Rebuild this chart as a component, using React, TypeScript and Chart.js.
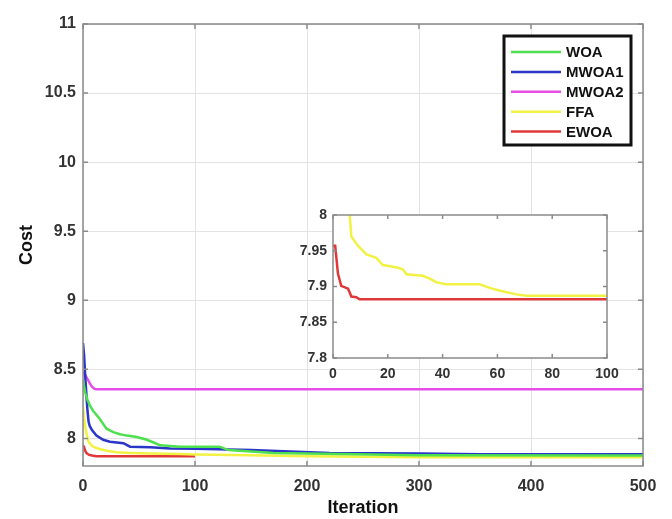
import React, { useEffect, useRef } from "react";
import { Chart, registerables } from "chart.js";
Chart.register(...registerables);

// ---------- data ----------
const seriesNames = ["WOA", "MWOA1", "MWOA2", "FFA", "EWOA"];
const seriesColors = ["#4ee04e", "#2a36c8", "#e64ee6", "#f2f244", "#e03838"];

const woaIter = [0, 2, 4, 6, 9, 15, 21, 27, 33, 39, 48, 57, 63, 69, 87, 122, 130, 170, 200, 300, 500];
const woaCost = [8.42, 8.33, 8.28, 8.24, 8.2, 8.14, 8.07, 8.045, 8.03, 8.02, 8.01, 7.99, 7.97, 7.95, 7.94, 7.94, 7.915, 7.895, 7.89, 7.878, 7.876];

const mwoa1Iter = [0, 1, 2, 3, 4, 5, 6, 8, 12, 18, 24, 36, 42, 60, 78, 100, 150, 220, 300, 354, 500];
const mwoa1Cost = [8.69, 8.6, 8.45, 8.32, 8.2, 8.12, 8.09, 8.06, 8.02, 7.99, 7.976, 7.965, 7.94, 7.935, 7.927, 7.925, 7.915, 7.895, 7.89, 7.885, 7.885];

const mwoa2Iter = [0, 2, 4, 6, 8, 10, 12, 500];
const mwoa2Cost = [8.48, 8.46, 8.43, 8.4, 8.375, 8.36, 8.355, 8.355];

const ffaIter = [0, 1, 2, 3, 5, 7, 9, 14, 21, 30, 42, 60, 87, 100, 150, 200, 300, 500];
const ffaCost = [8.23, 8.15, 8.09, 8.04, 7.975, 7.955, 7.94, 7.925, 7.91, 7.9, 7.895, 7.89, 7.886, 7.883, 7.878, 7.87, 7.864, 7.864];

const ewoaIter = [0, 1, 2, 3, 5, 8, 12, 100];
const ewoaCost = [7.95, 7.935, 7.91, 7.895, 7.882, 7.876, 7.87, 7.87];

// inset (zoomed view, iterations 0-100)
const insetFfaIter = [0, 3, 5, 6.1, 6.7, 9.1, 12.2, 15.8, 18.2, 23, 25.5, 26.8, 32.8, 35.3, 37.7, 41.4, 53.5, 57.2, 61, 67, 70.6, 100];
const insetFfaCost = [8.24, 8.04, 8.01, 8.0, 7.97, 7.957, 7.945, 7.94, 7.93, 7.927, 7.924, 7.917, 7.915, 7.911, 7.906, 7.903, 7.903, 7.898, 7.894, 7.889, 7.887, 7.887];
const insetEwoaIter = [0, 0.8, 1.8, 3, 5.5, 6.7, 8.5, 9.7, 100];
const insetEwoaCost = [7.957, 7.957, 7.918, 7.901, 7.897, 7.886, 7.885, 7.882, 7.882];

const mainXTicks = [0, 100, 200, 300, 400, 500];
const mainYTicks = [8, 8.5, 9, 9.5, 10, 10.5, 11];
const insetXTicks = [0, 20, 40, 60, 80, 100];
const insetYTicks = [7.8, 7.85, 7.9, 7.95, 8];
const insetYLabels = ["7.8", "7.85", "7.9", "7.95", "8"];

// ---------- helpers ----------
const AXIS_COLOR = "#8a8a8a";
const TICK_TEXT = "#333333";
const FONT = "'Liberation Sans', Arial, sans-serif";

const pts = (xs: number[], ys: number[]) => xs.map((x, i) => ({ x, y: ys[i] }));

const boxPlugin = (tickLen: number, fillWhite: boolean) => ({
  id: "matlabBox",
  beforeDraw(chart: any) {
    if (!fillWhite) return;
    const { ctx, chartArea: a } = chart;
    ctx.save();
    ctx.fillStyle = "#ffffff";
    ctx.fillRect(a.left, a.top, a.right - a.left, a.bottom - a.top);
    ctx.restore();
  },
  afterDatasetsDraw(chart: any) {
    const { ctx, chartArea: a, scales } = chart;
    ctx.save();
    ctx.strokeStyle = AXIS_COLOR;
    ctx.lineWidth = 1.5;
    ctx.beginPath();
    for (const t of scales.x.ticks) {
      const px = scales.x.getPixelForValue(t.value);
      ctx.moveTo(px, a.bottom);
      ctx.lineTo(px, a.bottom - tickLen);
      ctx.moveTo(px, a.top);
      ctx.lineTo(px, a.top + tickLen);
    }
    for (const t of scales.y.ticks) {
      const py = scales.y.getPixelForValue(t.value);
      ctx.moveTo(a.left, py);
      ctx.lineTo(a.left + tickLen, py);
      ctx.moveTo(a.right, py);
      ctx.lineTo(a.right - tickLen, py);
    }
    ctx.stroke();
    ctx.strokeRect(a.left, a.top, a.right - a.left, a.bottom - a.top);
    ctx.restore();
  },
});

const legendPlugin = {
  id: "boxLegend",
  afterDraw(chart: any) {
    const { ctx } = chart;
    const bx = 504, by = 36, bw = 127, bh = 109;
    ctx.save();
    ctx.fillStyle = "#ffffff";
    ctx.fillRect(bx, by, bw, bh);
    ctx.strokeStyle = "#111111";
    ctx.lineWidth = 3;
    ctx.strokeRect(bx, by, bw, bh);
    ctx.font = `bold 15px ${FONT}`;
    ctx.textBaseline = "middle";
    ctx.textAlign = "left";
    chart.data.datasets.forEach((ds: any, i: number) => {
      const y = 52 + i * 19.9;
      ctx.strokeStyle = ds.borderColor;
      ctx.lineWidth = 2.5;
      ctx.beginPath();
      ctx.moveTo(511, y);
      ctx.lineTo(561, y);
      ctx.stroke();
      ctx.fillStyle = "#111111";
      ctx.fillText(ds.label, 566, y + 1);
    });
    ctx.restore();
  },
};

function lineDs(label: string, color: string, data: any[], width: number) {
  return {
    label,
    data,
    borderColor: color,
    backgroundColor: color,
    borderWidth: width,
    pointRadius: 0,
    tension: 0,
    fill: false,
  };
}

export default function App() {
  const mainRef = useRef<HTMLCanvasElement | null>(null);
  const insetRef = useRef<HTMLCanvasElement | null>(null);

  useEffect(() => {
    const main = new Chart(mainRef.current as HTMLCanvasElement, {
      type: "line",
      data: {
        datasets: [
          lineDs(seriesNames[0], seriesColors[0], pts(woaIter, woaCost), 2.5),
          lineDs(seriesNames[1], seriesColors[1], pts(mwoa1Iter, mwoa1Cost), 2.5),
          lineDs(seriesNames[2], seriesColors[2], pts(mwoa2Iter, mwoa2Cost), 2.5),
          lineDs(seriesNames[3], seriesColors[3], pts(ffaIter, ffaCost), 2.5),
          lineDs(seriesNames[4], seriesColors[4], pts(ewoaIter, ewoaCost), 2.5),
        ] as any,
      },
      options: {
        responsive: false,
        animation: false,
        layout: { padding: { top: 24, right: 29, left: 0, bottom: 0 } },
        plugins: { legend: { display: false }, tooltip: { enabled: false } },
        scales: {
          x: {
            type: "linear",
            min: 0,
            max: 500,
            afterBuildTicks: (s: any) => { s.ticks = mainXTicks.map((v) => ({ value: v })); },
            afterFit: (s: any) => { s.height = 53; },
            grid: { color: "#e3e3e3", lineWidth: 1, drawTicks: false },
            border: { display: false },
            ticks: { color: TICK_TEXT, padding: 11, font: { family: FONT, size: 16, weight: "bold" }, maxRotation: 0 },
            title: { display: true, text: "Iteration", color: "#111111", padding: { top: 0, bottom: 0 }, font: { family: FONT, size: 18, weight: "bold" } },
          },
          y: {
            type: "linear",
            min: 7.8,
            max: 11,
            afterBuildTicks: (s: any) => { s.ticks = mainYTicks.map((v) => ({ value: v })); },
            afterFit: (s: any) => { s.width = 83; },
            grid: { color: "#e3e3e3", lineWidth: 1, drawTicks: false },
            border: { display: false },
            ticks: { color: TICK_TEXT, padding: 7, font: { family: FONT, size: 16, weight: "bold" }, callback: (v: any) => String(v) },
            title: { display: true, text: "Cost", color: "#111111", padding: { top: 16, bottom: 0 }, font: { family: FONT, size: 18, weight: "bold" } },
          },
        },
      } as any,
      plugins: [boxPlugin(5, false), legendPlugin] as any,
    });

    const inset = new Chart(insetRef.current as HTMLCanvasElement, {
      type: "line",
      data: {
        datasets: [
          lineDs(seriesNames[3], seriesColors[3], pts(insetFfaIter, insetFfaCost), 2.5),
          lineDs(seriesNames[4], seriesColors[4], pts(insetEwoaIter, insetEwoaCost), 2.5),
        ] as any,
      },
      options: {
        responsive: false,
        animation: false,
        layout: { padding: { top: 15, right: 23, left: 0, bottom: 0 } },
        plugins: { legend: { display: false }, tooltip: { enabled: false } },
        scales: {
          x: {
            type: "linear",
            min: 0,
            max: 100,
            afterBuildTicks: (s: any) => { s.ticks = insetXTicks.map((v) => ({ value: v })); },
            afterFit: (s: any) => { s.height = 32; },
            grid: { display: false, drawTicks: false },
            border: { display: false },
            ticks: { color: TICK_TEXT, padding: 8, font: { family: FONT, size: 14, weight: "bold" }, maxRotation: 0 },
          },
          y: {
            type: "linear",
            min: 7.8,
            max: 8,
            afterBuildTicks: (s: any) => { s.ticks = insetYTicks.map((v) => ({ value: v })); },
            afterFit: (s: any) => { s.width = 53; },
            grid: { display: false, drawTicks: false },
            border: { display: false },
            ticks: {
              color: TICK_TEXT,
              padding: 6,
              font: { family: FONT, size: 14, weight: "bold" },
              callback: (v: any) => { const i = insetYTicks.indexOf(v); return i >= 0 ? insetYLabels[i] : String(v); },
            },
          },
        },
      } as any,
      plugins: [boxPlugin(4, true)] as any,
    });

    return () => {
      main.destroy();
      inset.destroy();
    };
  }, []);

  return (
    <div style={{ position: "absolute", left: 0, top: 0, width: 672, height: 519, background: "#ffffff" }}>
      <canvas ref={mainRef} width={672} height={519} style={{ position: "absolute", left: 0, top: 0 }} />
      <canvas ref={insetRef} width={350} height={190} style={{ position: "absolute", left: 280, top: 200 }} />
    </div>
  );
}
